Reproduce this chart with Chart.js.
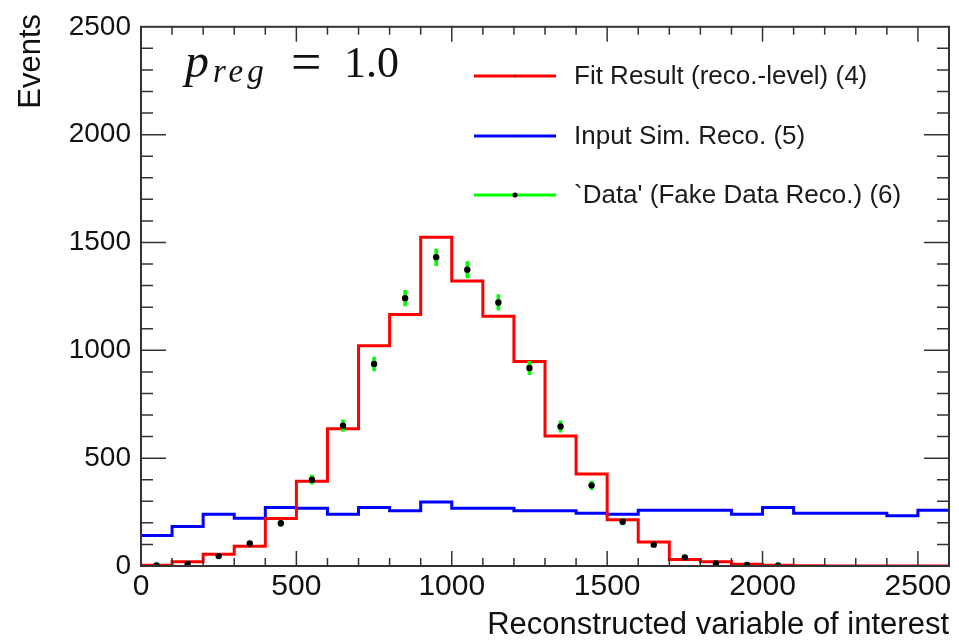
<!DOCTYPE html>
<html>
<head>
<meta charset="utf-8">
<script src="https://cdn.jsdelivr.net/npm/chart.js@4.4.1/dist/chart.umd.min.js"></script>
<style>
  html, body { margin: 0; padding: 0; background: #fff; }
  #wrap { width: 959px; height: 642px; }
</style>
</head>
<body>
<div id="wrap"><canvas id="histChart" width="959" height="642"></canvas></div>
<script>
// bins: lower edges, width 100
const binLow = [0, 100, 200, 300, 400, 500, 600, 700, 800, 900, 1000, 1100, 1200,
  1300, 1400, 1500, 1600, 1700, 1800, 1900, 2000, 2100, 2200, 2300, 2400, 2500];
const binWidth = 100;

// Fit Result (reco.-level) (4)
const fitReco = [3, 20, 55, 91, 220, 393, 636, 1021, 1166, 1524, 1321, 1158, 948,
  603, 426, 215, 111, 30, 20, 8, 3, 1, 0, 0, 0, 0];
// Input Sim. Reco. (5)
const simReco = [141, 183, 240, 221, 271, 268, 240, 271, 256, 297, 268, 268, 256,
  256, 245, 240, 259, 259, 259, 240, 271, 245, 245, 245, 233, 259];
// `Data' (Fake Data Reco.) (6)
const dataCenters = [50, 150, 250, 350, 450, 550, 650, 750, 850, 950, 1050, 1150,
  1250, 1350, 1450, 1550, 1650, 1750, 1850, 1950, 2050];
const dataVals = [2, 9, 46, 104, 198, 400, 651, 937, 1242, 1432, 1374, 1222,
  918, 647, 374, 205, 99, 40, 12, 5, 2];
const dataErr = [2, 4, 8, 11, 15, 21, 27, 32, 36, 39, 38, 36,
  31, 26, 20, 15, 10, 7, 4, 3, 2];

const xTicks = [0, 500, 1000, 1500, 2000, 2500];
const yTicks = [0, 500, 1000, 1500, 2000, 2500];

const legendLabels = ['Fit Result (reco.-level) (4)', 'Input Sim. Reco. (5)', "`Data' (Fake Data Reco.) (6)"];
const RED = '#ff0000', BLUE = '#0000ff', GREEN = '#00ff00';

function stepPoints(vals) {
  const pts = binLow.map((x, i) => ({x: x, y: vals[i]}));
  pts.push({x: binLow[binLow.length - 1] + binWidth, y: vals[vals.length - 1]});
  return pts;
}

// ROOT style frame, inward ticks, legend, y title and p_reg label
const rootStyle = {
  id: 'rootStyle',
  afterDraw(chart) {
    const {ctx, chartArea: a, scales: {x, y}} = chart;
    ctx.save();
    ctx.strokeStyle = '#333';
    ctx.lineWidth = 1.5;
    ctx.beginPath();
    for (let v = 100; v < 2600; v += 100) {
      const px = x.getPixelForValue(v);
      const len = v % 500 === 0 ? 15 : 8;
      ctx.moveTo(px, a.bottom); ctx.lineTo(px, a.bottom - len);
      ctx.moveTo(px, a.top); ctx.lineTo(px, a.top + len);
    }
    for (let v = 100; v < 2500; v += 100) {
      const py = y.getPixelForValue(v);
      const len = v % 500 === 0 ? 25 : 12;
      ctx.moveTo(a.left, py); ctx.lineTo(a.left + len, py);
      ctx.moveTo(a.right, py); ctx.lineTo(a.right - len, py);
    }
    ctx.stroke();
    ctx.lineWidth = 2;
    ctx.strokeRect(a.left, a.top, a.right - a.left, a.bottom - a.top);

    // y axis title, top aligned like ROOT
    ctx.save();
    ctx.translate(31, 14);
    ctx.rotate(-Math.PI / 2);
    ctx.font = '31px "Liberation Sans", Arial, sans-serif';
    ctx.fillStyle = '#111';
    ctx.textAlign = 'right';
    ctx.textBaseline = 'middle';
    ctx.fillText('Events', 0, 0);
    ctx.restore();

    // legend
    const colors = [RED, BLUE, GREEN];
    const rows = [76, 136, 195];
    ctx.font = '26px "Liberation Sans", Arial, sans-serif';
    ctx.textBaseline = 'middle';
    rows.forEach((ly, i) => {
      ctx.strokeStyle = colors[i];
      ctx.lineWidth = 3;
      ctx.beginPath();
      ctx.moveTo(474, ly); ctx.lineTo(556, ly);
      ctx.stroke();
      ctx.fillStyle = '#000';
      ctx.beginPath();
      ctx.arc(515, ly, i === 2 ? 2.5 : 0.8, 0, Math.PI * 2);
      ctx.fill();
      ctx.fillStyle = '#1a1a1a';
      ctx.fillText(legendLabels[i], 574, ly + 1);
    });

    // p_reg = 1.0
    ctx.fillStyle = '#111';
    ctx.textBaseline = 'alphabetic';
    ctx.font = 'italic 48px "Liberation Serif", serif';
    ctx.fillText('p', 185, 77);
    ctx.font = 'italic 33px "Liberation Serif", serif';
    if ('letterSpacing' in ctx) ctx.letterSpacing = '4px';
    ctx.fillText('reg', 213, 82);
    if ('letterSpacing' in ctx) ctx.letterSpacing = '0px';
    ctx.font = '54px "Liberation Serif", serif';
    ctx.fillText('=', 291, 80);
    ctx.font = '44px "Liberation Serif", serif';
    ctx.fillText('1.0', 344, 77);
    ctx.restore();
  }
};

const sansFont = '"Liberation Sans", Arial, sans-serif';

new Chart(document.getElementById('histChart'), {
  type: 'line',
  data: {
    datasets: [
      {
        label: legendLabels[2],
        data: dataCenters.map((c, i) => ({x: c, y: dataVals[i]})),
        showLine: false,
        pointRadius: 3.2,
        pointBorderWidth: 0,
        pointBackgroundColor: '#000',
        borderColor: '#000'
      },
      {
        type: 'bar',
        label: 'errors',
        data: dataCenters.map((c, i) => ({x: c, y: [dataVals[i] - dataErr[i], dataVals[i] + dataErr[i]]})),
        backgroundColor: GREEN,
        barThickness: 3,
        borderWidth: 0
      },
      {
        label: legendLabels[0],
        data: stepPoints(fitReco),
        stepped: true,
        borderColor: RED,
        borderWidth: 3,
        borderJoinStyle: 'miter',
        pointRadius: 0,
        fill: false
      },
      {
        label: legendLabels[1],
        data: stepPoints(simReco),
        stepped: true,
        borderColor: BLUE,
        borderWidth: 3,
        borderJoinStyle: 'miter',
        pointRadius: 0,
        fill: false
      }
    ]
  },
  options: {
    responsive: false,
    animation: false,
    events: [],
    layout: {padding: {left: 0, right: 10, top: 20, bottom: 0}},
    plugins: {legend: {display: false}, tooltip: {enabled: false}},
    scales: {
      x: {
        type: 'linear',
        min: 0,
        max: 2600,
        offset: false,
        afterBuildTicks: s => { s.ticks = xTicks.map(v => ({value: v})); },
        afterFit: s => { s.height = 76; },
        grid: {display: false, drawTicks: false, offset: false},
        border: {display: false},
        ticks: {
          font: {family: sansFont, size: 30},
          color: '#111',
          padding: 3,
          maxRotation: 0,
          callback: v => String(v)
        },
        title: {
          display: true,
          text: 'Reconstructed variable of interest',
          align: 'end',
          color: '#111',
          font: {family: sansFont, size: 31, lineHeight: 1},
          padding: {top: 0, bottom: 1}
        }
      },
      y: {
        min: 0,
        max: 2500,
        afterBuildTicks: s => { s.ticks = yTicks.map(v => ({value: v})); },
        afterFit: s => { s.width = 141; },
        grid: {display: false, drawTicks: false},
        border: {display: false},
        ticks: {
          font: {family: sansFont, size: 28},
          color: '#111',
          padding: 10,
          callback: v => String(v)
        },
        title: {display: false}
      }
    }
  },
  plugins: [rootStyle]
});
</script>
</body>
</html>
